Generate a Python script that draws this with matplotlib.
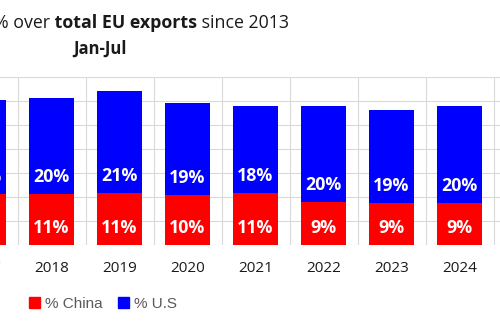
import matplotlib.pyplot as plt
from matplotlib.patches import Patch

# share of total EU exports, Jan-Jul of each year (%)
years = ['2017', '2018', '2019', '2020', '2021', '2022', '2023', '2024']
china = [10.6, 10.6, 10.8, 10.4, 10.7, 9.0, 8.7, 8.6]
us = [19.6, 20.0, 21.4, 19.3, 18.3, 20.0, 19.4, 20.4]

RED = '#ff0000'
BLUE = '#0000ff'
GRID = '#d9d9d9'
FONT = 'Open Sans'

fig = plt.figure(figsize=(5, 3.3), dpi=100)
# axes run past both figure edges, as in the exported crop
ax = fig.add_axes([-0.101, 0.259, 1.224, 0.507])

x = list(range(len(years)))
ax.bar(x, china, width=0.66, color=RED, zorder=2)
ax.bar(x, us, width=0.66, bottom=china, color=BLUE, zorder=2)

# labels sit just above the base of each segment
for i in x:
    ax.annotate(f'{china[i]:.0f}%', (i, 0), xytext=(0, 12.2), textcoords='offset points',
                ha='center', va='center', color='white', fontsize=12.8,
                fontweight='bold', family=FONT, zorder=3)
    ax.annotate(f'{us[i]:.0f}%', (i, china[i]), xytext=(0, 12.2), textcoords='offset points',
                ha='center', va='center', color='white', fontsize=12.8,
                fontweight='bold', family=FONT, zorder=3)

ax.set_xlim(-0.5, 8.5)
ax.set_ylim(0, 35)
ax.set_yticks(range(0, 36, 5))
ax.set_xticks(x)
ax.set_xticklabels(years, family=FONT, fontsize=11, color='#1a1a1a')
ax.set_xticks([i + 0.5 for i in range(-1, 9)], minor=True)
ax.tick_params(axis='both', which='both', length=0)
ax.tick_params(axis='x', pad=11.5)
ax.set_yticklabels([])
ax.grid(axis='y', which='major', color=GRID, lw=0.8, zorder=0)
ax.grid(axis='x', which='minor', color=GRID, lw=0.8, zorder=0)
for s in ax.spines.values():
    s.set_visible(False)

# title with a bold middle part
t1 = fig.text(-6 / 500, 1 - 28.5 / 330, '% over', fontsize=12.8, family=FONT,
              va='baseline', color='#1a1a1a')
t2 = ax.annotate(' total EU exports', xy=(1, 0), xycoords=t1, va='bottom', ha='left',
                 fontsize=12.8, family=FONT, fontweight='bold', color='#1a1a1a',
                 annotation_clip=False)
t3 = ax.annotate(' since 2013', xy=(1, 0), xycoords=t2, va='bottom', ha='left',
                 fontsize=12.8, family=FONT, color='#1a1a1a', annotation_clip=False)
fig.text(99.5 / 500, 1 - 53.3 / 330, 'Jan-Jul', fontsize=12, family=FONT,
         fontweight='bold', ha='center', va='baseline', color='#1a1a1a')

handles = [Patch(color=RED, label='% China'), Patch(color=BLUE, label='% U.S')]
fig.legend(handles=handles, ncol=2, loc='center left',
           bbox_to_anchor=(29 / 500, 1 - 304 / 330), frameon=False,
           borderpad=0, borderaxespad=0, handlelength=0.69, handleheight=0.69,
           handletextpad=0.33, columnspacing=1.05,
           prop={'family': 'Liberation Sans', 'size': 11}, labelcolor='#595959')

fig.savefig('out.png', dpi=100)
